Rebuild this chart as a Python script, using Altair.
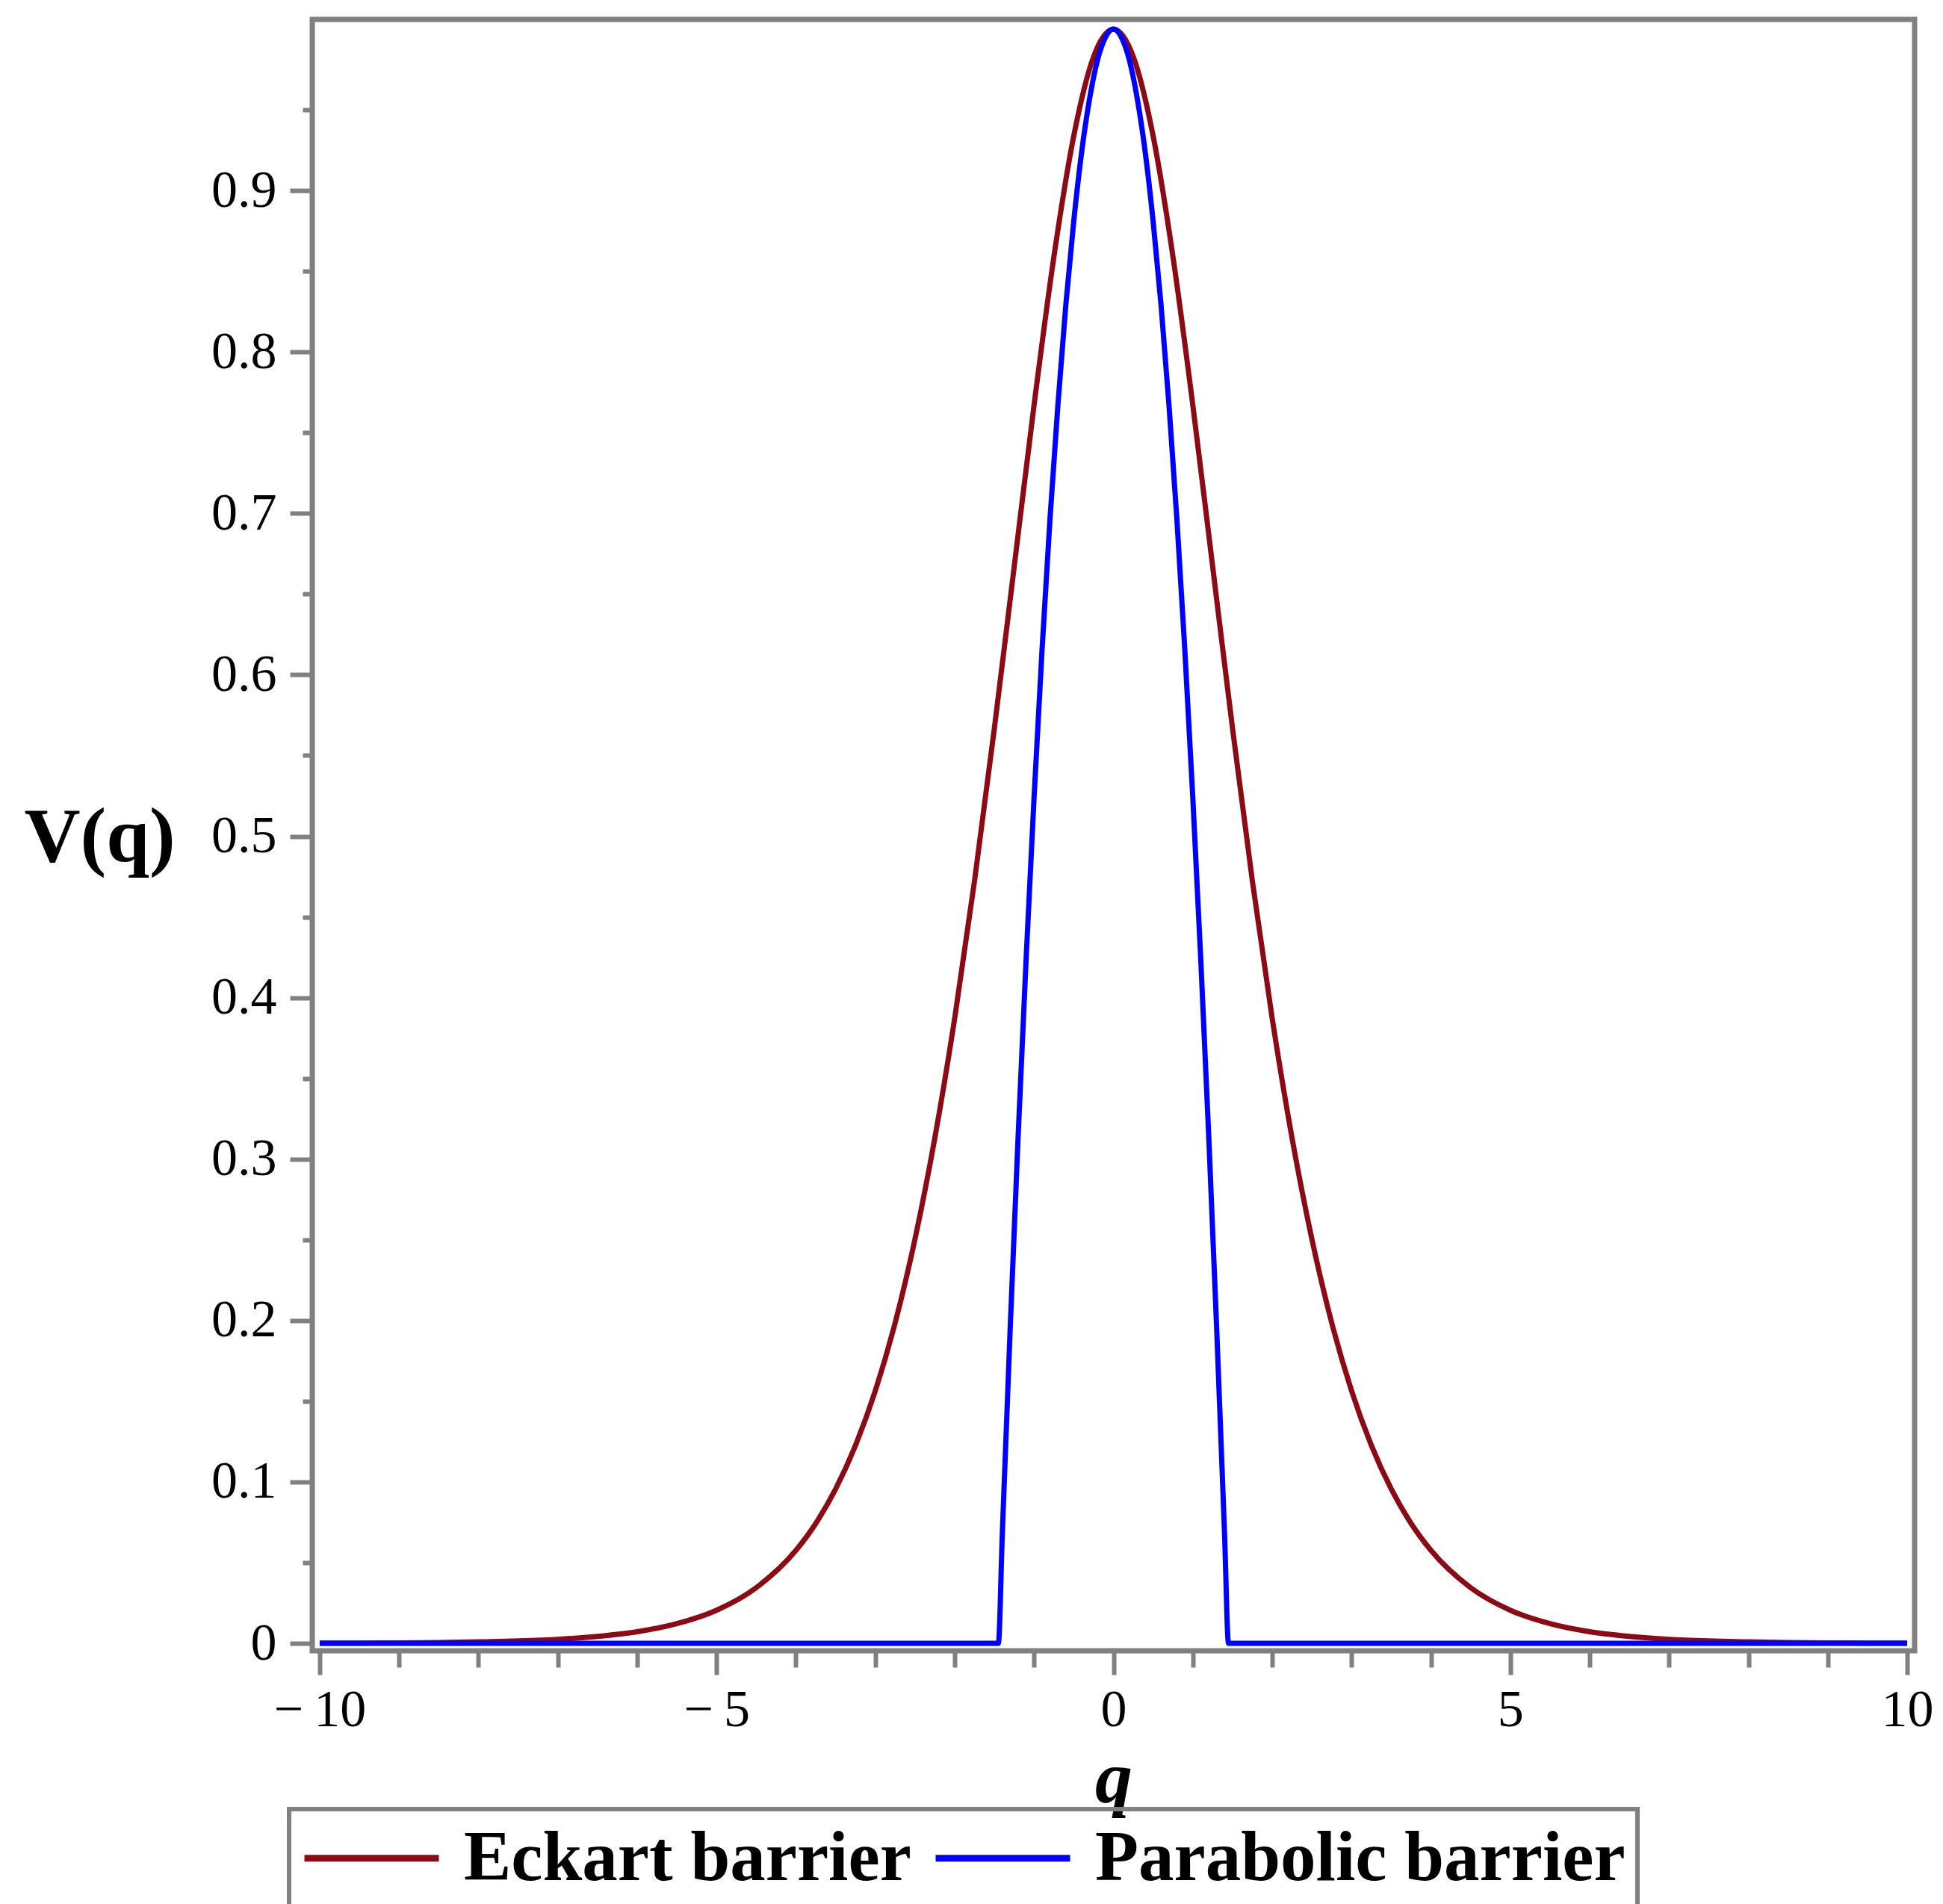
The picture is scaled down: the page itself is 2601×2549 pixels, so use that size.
import altair as alt
import pandas as pd

# Eckart barrier V(q), sampled along q
eckart_q = [-10, -9.5, -9, -8.5, -8, -7.5, -7, -6.5, -6, -5.5, -5, -4.5, -4,
            -3.75, -3.5, -3.25, -3, -2.75, -2.5, -2.25, -2, -1.75, -1.5, -1.25,
            -1, -0.75, -0.5, -0.25, 0, 0.25, 0.5, 0.75, 1, 1.25, 1.5, 1.75, 2,
            2.25, 2.5, 2.75, 3, 3.25, 3.5, 3.75, 4, 4.5, 5, 5.5, 6, 6.5, 7, 7.5,
            8, 8.5, 9, 9.5, 10]
eckart_v = [0.0001, 0.0002, 0.0003, 0.0005, 0.0009, 0.0015, 0.0025, 0.0043,
            0.0072, 0.0122, 0.0205, 0.0345, 0.0576, 0.0743, 0.0956, 0.1226,
            0.1565, 0.1986, 0.2505, 0.3131, 0.3872, 0.4724, 0.5669, 0.6671,
            0.7671, 0.8590, 0.9338, 0.9829, 1.0, 0.9829, 0.9338, 0.8590, 0.7671,
            0.6671, 0.5669, 0.4724, 0.3872, 0.3131, 0.2505, 0.1986, 0.1565,
            0.1226, 0.0956, 0.0743, 0.0576, 0.0345, 0.0205, 0.0122, 0.0072,
            0.0043, 0.0025, 0.0015, 0.0009, 0.0005, 0.0003, 0.0002, 0.0001]

# Parabolic barrier V(q), zero outside |q| = 1.45
parab_q = [-10, -1.45, -1.4, -1.3, -1.2, -1.1, -1.0, -0.9, -0.8, -0.7, -0.6,
           -0.5, -0.4, -0.3, -0.2, -0.1, 0, 0.1, 0.2, 0.3, 0.4, 0.5, 0.6, 0.7,
           0.8, 0.9, 1.0, 1.1, 1.2, 1.3, 1.4, 1.45, 10]
parab_v = [0, 0, 0.068, 0.196, 0.315, 0.424, 0.524, 0.615, 0.696, 0.767,
           0.829, 0.881, 0.924, 0.957, 0.981, 0.995, 1.0, 0.995, 0.981, 0.957,
           0.924, 0.881, 0.829, 0.767, 0.696, 0.615, 0.524, 0.424, 0.315,
           0.196, 0.068, 0, 0]

series_names = ["Eckart barrier", "Parabolic barrier"]
series_colors = ["#8B0A14", "#0000FF"]

x_tick_values = [-10, -9, -8, -7, -6, -5, -4, -3, -2, -1, 0,
                 1, 2, 3, 4, 5, 6, 7, 8, 9, 10]
y_tick_values = [0, 0.05, 0.1, 0.15, 0.2, 0.25, 0.3, 0.35, 0.4, 0.45,
                 0.5, 0.55, 0.6, 0.65, 0.7, 0.75, 0.8, 0.85, 0.9, 0.95]

df = pd.concat([
    pd.DataFrame({"q": eckart_q, "V": eckart_v, "series": series_names[0]}),
    pd.DataFrame({"q": parab_q, "V": parab_v, "series": series_names[1]}),
], ignore_index=True)

FONT = "Liberation Serif"
GRAY = "#808080"

x_axis = alt.Axis(
    values=x_tick_values,
    grid=False,
    domain=False,
    tickColor=GRAY,
    tickWidth=6,
    tickSize={"condition": {"test": "datum.value % 5 === 0", "value": 32}, "value": 22},
    labelExpr="datum.value % 5 === 0 ? replace(format(datum.value, 'd'), '\u2212', '\u2212\u2009') : ''",
    labelOverlap=False,
    labelFlush=False,
    labelFont=FONT,
    labelFontSize=70,
    labelColor="black",
    labelPadding=13,
    title="q",
    titleFont=FONT,
    titleFontSize=100,
    titleFontWeight="bold",
    titleFontStyle="italic",
    titleColor="black",
    titleBaseline="alphabetic",
    titleY=202,
)

y_axis = alt.Axis(
    values=y_tick_values,
    grid=False,
    domain=False,
    tickColor=GRAY,
    tickWidth=6,
    tickSize={"condition": {"test": "round(datum.value * 100) % 10 === 0", "value": 30}, "value": 13},
    labelExpr="round(datum.value * 100) % 10 === 0 ? format(datum.value, '.1~f') : ''",
    labelOverlap=False,
    labelFont=FONT,
    labelFontSize=70,
    labelColor="black",
    labelPadding=18,
    title="V(q)",
    titleFont=FONT,
    titleFontSize=104,
    titleFontWeight="bold",
    titleColor="black",
    titleAngle=0,
    titleAlign="left",
    titleBaseline="alphabetic",
    titleX=-386,
    titleY=1126,
)

# Long horizontal line sample: path spans 4 units of half-size, starting at the entry's left edge
legend = alt.Legend(
    title=None,
    orient="none",
    legendX=-31,
    legendY=2396,
    direction="horizontal",
    symbolType="M-1,0H3",
    symbolSize=8100,
    symbolStrokeWidth=9,
    labelFont=FONT,
    labelFontSize=95,
    labelFontWeight="bold",
    labelColor="black",
    labelLimit=3000,
    labelOffset=119,
    columnPadding=14,
    padding=16,
    strokeColor=GRAY,
)

chart = alt.Chart(df).mark_line(strokeWidth=7, interpolate="monotone", clip=True).encode(
    x=alt.X("q:Q", scale=alt.Scale(domain=[-10.094, 10.094], nice=False, zero=False), axis=x_axis),
    y=alt.Y("V:Q", scale=alt.Scale(domain=[-0.0046, 1.006], nice=False, zero=False), axis=y_axis),
    color=alt.Color("series:N", scale=alt.Scale(domain=series_names, range=series_colors), legend=legend),
).properties(
    width=2145,
    height=2184,
    padding={"left": 418, "top": 26, "right": 38, "bottom": 339},
    autosize=alt.AutoSizeParams(type="none"),
    background="white",
).configure_view(
    stroke=GRAY,
    strokeWidth=7,
).configure_legend(
    strokeWidth=6,
)

chart.save("out.html", embed_options={"renderer": "svg", "actions": False})
